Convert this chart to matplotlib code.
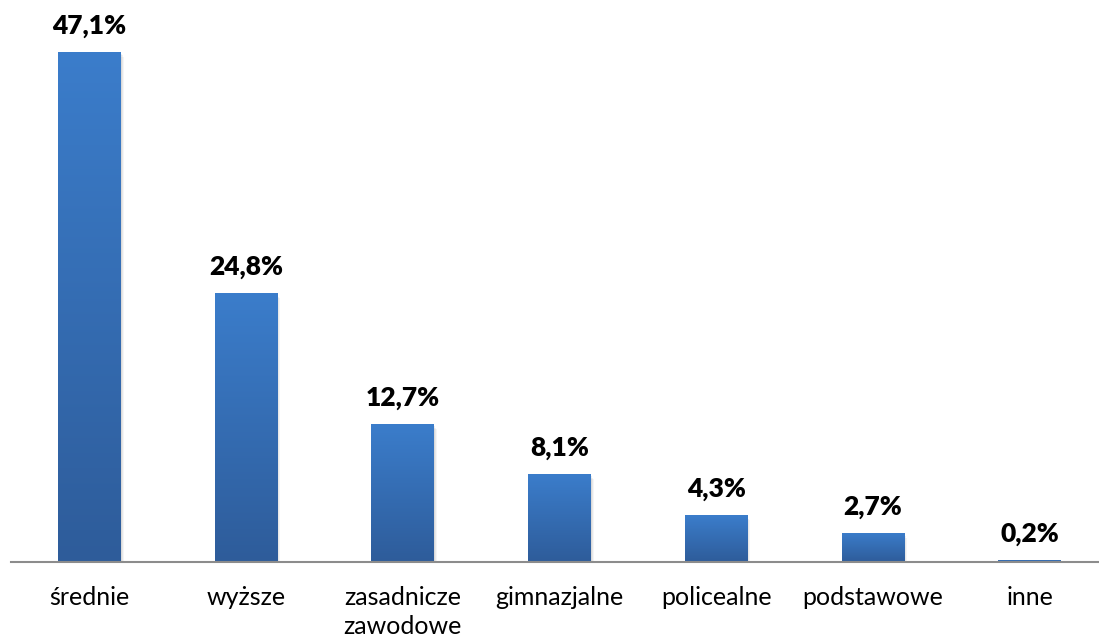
import numpy as np
import matplotlib.pyplot as plt
from matplotlib.colors import LinearSegmentedColormap

categories = ['średnie', 'wyższe', 'zasadnicze\nzawodowe', 'gimnazjalne',
              'policealne', 'podstawowe', 'inne']
values = [47.1, 24.8, 12.7, 8.1, 4.3, 2.7, 0.2]
labels = ['47,1%', '24,8%', '12,7%', '8,1%', '4,3%', '2,7%', '0,2%']

plt.rcParams['font.family'] = ['Lato', 'DejaVu Sans']

fig = plt.figure(figsize=(10.99, 6.39), dpi=100)
ax = fig.add_axes([11/1099, 77/639, 1097/1099, 562/639])

x = np.arange(len(values))
bars = ax.bar(x, values, width=0.40, color='none', edgecolor='none', zorder=3)

ax.set_xlim(-0.5, len(values) - 0.5)
ax.set_ylim(0, 51.9)

cmap = LinearSegmentedColormap.from_list('grad', ['#2E5C9A', '#3B7DCB'])
grad = np.linspace(0, 1, 256).reshape(-1, 1)
for b in bars:
    x0, w, h = b.get_x(), b.get_width(), b.get_height()
    # soft shadow
    for k, a in enumerate([0.06, 0.05, 0.04]):
        ax.bar(x0 + w/2 + 0.006*(k+1), h, width=w, bottom=-0.15*(k+1),
               color='black', alpha=a, zorder=2)
    im = ax.imshow(grad, extent=[x0, x0 + w, 0, h], origin='lower',
                   cmap=cmap, aspect='auto', zorder=3)
    im.set_clip_path(b)

ax.set_xlim(-0.5, len(values) - 0.5)
ax.set_ylim(0, 51.9)

for xi, v, lab in zip(x, values, labels):
    ax.text(xi, v + 1.3, lab, ha='center', va='bottom', fontsize=19,
            fontweight='heavy', color='black')

for s in ['top', 'right', 'left']:
    ax.spines[s].set_visible(False)
ax.spines['bottom'].set_color('#8c8c8c')
ax.spines['bottom'].set_linewidth(1.5)
ax.spines['bottom'].set_zorder(4)
ax.set_yticks([])
ax.set_xticks(x)
ax.set_xticklabels(categories, fontsize=18, linespacing=1.35)
ax.tick_params(axis='x', length=0, pad=17)

fig.savefig('out.png', dpi=100)
